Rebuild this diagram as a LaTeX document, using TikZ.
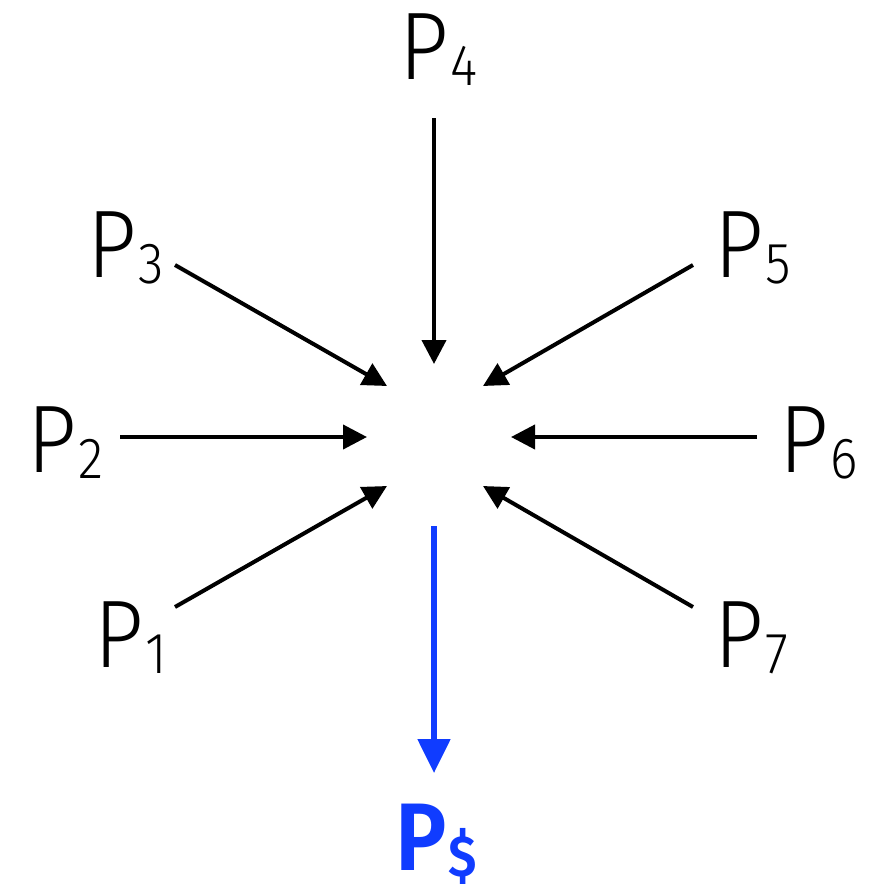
\documentclass[tikz,border=0pt]{standalone}
\usepackage{fontspec}
\newfontfamily\lblfont{Fira Sans Light}[FakeStretch=0.9]
\newfontfamily\lblboldfont{Fira Sans SemiBold}[FakeStretch=0.9]
\usetikzlibrary{arrows.meta}

\definecolor{psblue}{RGB}{16,60,255}

% label with a lowered index
\newcommand{\plab}[1]{\fontsize{48}{56}\selectfont P\hspace{1pt}%
  {\fontsize{29}{32}\selectfont\raisebox{-3pt}{#1}}}

\begin{document}
\begin{tikzpicture}[
    x=0.5pt, y=-0.5pt,
    >={Triangle[length=12pt, width=12pt]},
    feed/.style   = {->, line width=2pt},
    result/.style = {-{Triangle[length=17pt, width=16pt]}, line width=2.6pt,
                     draw=psblue},
    plabel/.style = {anchor=base west, inner sep=0pt, font=\lblfont},
    slabel/.style = {anchor=base west, inner sep=0pt, font=\lblboldfont,
                     text=psblue}
]
\useasboundingbox (0,0) rectangle (884,884);

% --- Labels -------------------------------------------------------------
\node[plabel] (p1) at (94,667)  {\plab{1}};
\node[plabel] (p2) at (27,472)  {\plab{2}};
\node[plabel] (p3) at (87,277)  {\plab{3}};
\node[plabel] (p4) at (399,79)  {\plab{4}};
\node[plabel] (p5) at (714,277) {\plab{5}};
\node[plabel] (p6) at (779,472) {\plab{6}};
\node[plabel] (p7) at (714,667) {\plab{7}};
\node[slabel] (ps) at (395,870) {\plab{\$}};

% --- Arrow ends ---------------------------------------------------------
\coordinate (s1) at (175,607);  \coordinate (t1) at (387,486);
\coordinate (s2) at (120,437);  \coordinate (t2) at (367,437);
\coordinate (s3) at (175,265);  \coordinate (t3) at (387,386);
\coordinate (s4) at (434,118);  \coordinate (t4) at (434,364);
\coordinate (s5) at (693,265);  \coordinate (t5) at (483,386);
\coordinate (s6) at (757,437);  \coordinate (t6) at (511,437);
\coordinate (s7) at (693,607);  \coordinate (t7) at (483,486);
\coordinate (so) at (434,526);  \coordinate (to) at (434,773);

% --- Flows --------------------------------------------------------------
\foreach \i in {1,...,7}
  \draw[feed] (s\i) -- (t\i);
\draw[result] (so) -- (to);

\end{tikzpicture}
\end{document}
